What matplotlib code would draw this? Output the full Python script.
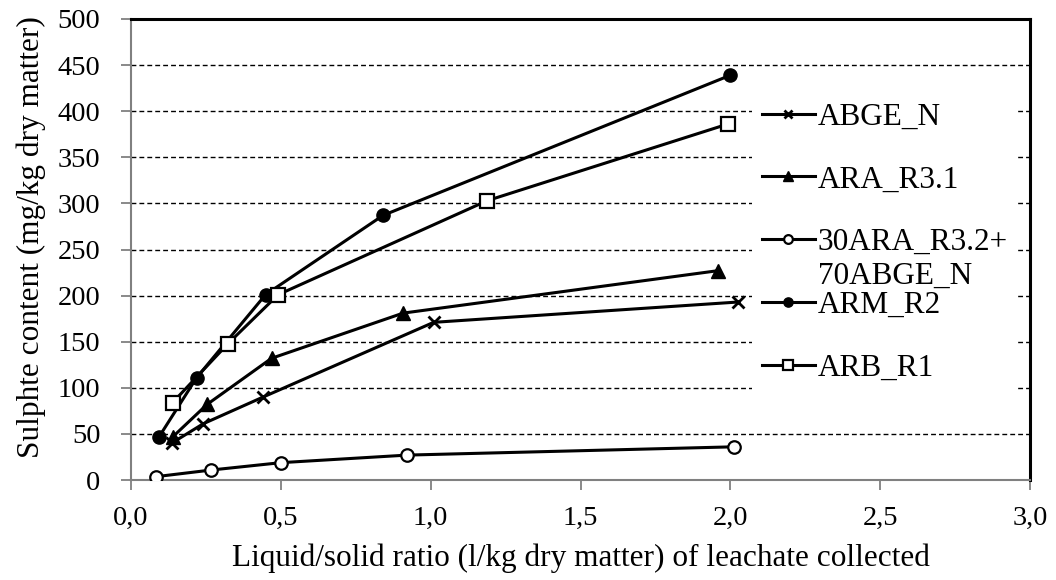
import matplotlib
matplotlib.use('Agg')
import matplotlib.pyplot as plt

plt.rcParams['font.family'] = ['Liberation Serif', 'DejaVu Serif']

# data (x = L/S ratio, y = sulphate mg/kg)
abge_x = [0.136, 0.241, 0.441, 1.01, 2.024]
abge_y = [40, 61, 90, 171, 193]
ara_x = [0.14, 0.254, 0.469, 0.908, 1.958]
ara_y = [47, 82, 132, 181, 227]
mix_x = [0.083, 0.267, 0.50, 0.921, 2.013]
mix_y = [3.6, 10.8, 18.8, 27, 36]
arm_x = [0.094, 0.219, 0.449, 0.841, 2.0]
arm_y = [47, 111, 201, 287, 439]
arb_x = [0.139, 0.324, 0.491, 1.189, 1.991]
arb_y = [84, 148, 201, 303, 386]

x_ticks = [0.0, 0.5, 1.0, 1.5, 2.0, 2.5, 3.0]
x_ticklabels = ['0,0', '0,5', '1,0', '1,5', '2,0', '2,5', '3,0']
y_ticks = list(range(0, 501, 50))

fig = plt.figure(figsize=(10.56, 5.8), dpi=100)
ax = fig.add_axes([131/1056, 1 - 480/580, 899/1056, 461/580])

lw = 2.2
ax.plot(abge_x, abge_y, color='black', lw=lw, marker='x', ms=9, mew=2, label='ABGE_N', zorder=3)
ax.plot(ara_x, ara_y, color='black', lw=lw, marker='^', ms=9.5, label='ARA_R3.1', zorder=3)
ax.plot(mix_x, mix_y, color='black', lw=lw, marker='o', ms=9, mfc='white', mec='black', mew=1.6,
		label='30ARA_R3.2+', zorder=3)
ax.plot(arm_x, arm_y, color='black', lw=lw, marker='o', ms=9.5, label='ARM_R2', zorder=3)
ax.plot(arb_x, arb_y, color='black', lw=lw, marker='s', ms=10, mfc='white', mec='black', mew=1.6,
		label='ARB_R1', zorder=3)

ax.set_xlim(0, 3.0)
ax.set_ylim(0, 500)
ax.set_xticks(x_ticks)
ax.set_xticklabels(x_ticklabels)
ax.set_yticks(y_ticks)

for yv in y_ticks[1:-1]:
	ax.axhline(yv, color='black', lw=1.0, linestyle=(0, (3.5, 2.2)), zorder=1)

for side in ['left', 'bottom']:
	ax.spines[side].set_color('#808080')
	ax.spines[side].set_linewidth(1.5)
for side in ['top', 'right']:
	ax.spines[side].set_color('black')
	ax.spines[side].set_linewidth(2.2)

ax.tick_params(axis='both', direction='out', length=7, width=1.3, color='#808080', labelsize=20.5)
ax.tick_params(axis='y', pad=15)
ax.tick_params(axis='x', pad=12)

ax.set_xlabel('Liquid/solid ratio (l/kg dry matter) of leachate collected', fontsize=22.5, labelpad=9)
ax.set_ylabel('Sulphte content (mg/kg dry matter)', fontsize=22.5)
ax.yaxis.set_label_coords(-0.095, 0.527)

legend = ax.legend(
	loc='upper left',
	bbox_to_anchor=(0.691, 0.839),
	fontsize=22.5,
	frameon=True,
	fancybox=False,
	facecolor='white',
	edgecolor='none',
	framealpha=1.0,
	handlelength=1.7,
	handletextpad=0.1,
	labelspacing=1.08,
	borderpad=0.3,
	borderaxespad=0,
	markerscale=0.7)
legend.set_zorder(5)

# second line of the mixed sample label, overlapping like in the original
fig.canvas.draw()
txt = legend.get_texts()[2]
bb = txt.get_window_extent()
inv = fig.transFigure.inverted()
x0, y0 = inv.transform((bb.x0, bb.y0 - 34))
fig.text(x0, y0, '70ABGE_N', fontsize=22.5, ha='left', va='bottom', zorder=6)

fig.savefig('out.png', dpi=100)
